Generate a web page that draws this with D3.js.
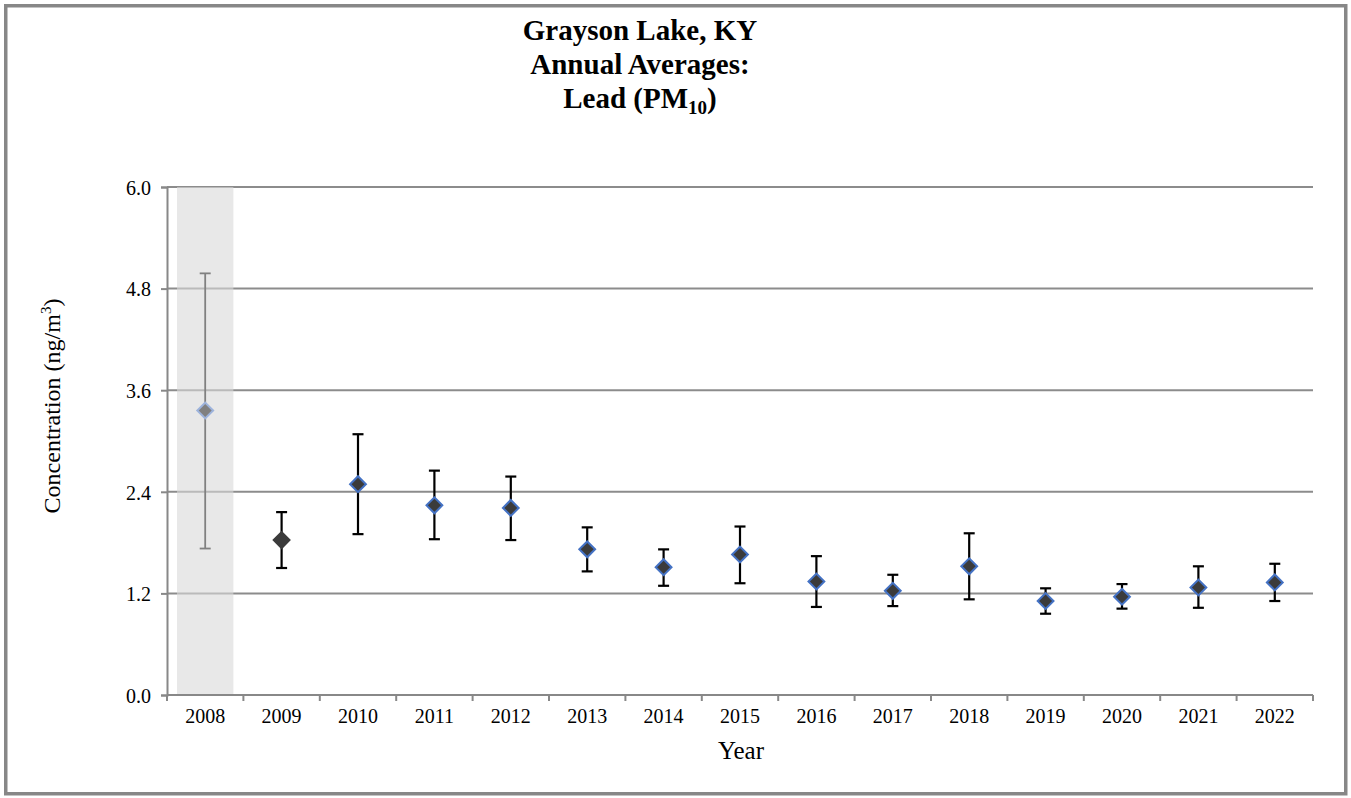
<!DOCTYPE html>
<html>
<head>
<meta charset="utf-8">
<script src="https://cdn.jsdelivr.net/npm/d3@7"></script>
<style>
  html, body { margin: 0; padding: 0; background: #fff; }
  svg { display: block; }
  text { font-family: "Liberation Serif", "Times New Roman", serif; fill: #000; }
</style>
</head>
<body>
<svg id="chart" width="1351" height="798"></svg>
<script>
// ---- data ----
const years = ["2008","2009","2010","2011","2012","2013","2014","2015","2016","2017","2018","2019","2020","2021","2022"];
const means = [3.36, 1.83, 2.49, 2.24, 2.21, 1.72, 1.51, 1.66, 1.34, 1.23, 1.52, 1.11, 1.16, 1.27, 1.33];
const upper = [4.98, 2.16, 3.08, 2.65, 2.58, 1.98, 1.72, 1.99, 1.64, 1.42, 1.91, 1.26, 1.31, 1.52, 1.55];
const lower = [1.73, 1.50, 1.90, 1.84, 1.83, 1.46, 1.29, 1.32, 1.04, 1.05, 1.13, 0.96, 1.02, 1.03, 1.11];
const yTicks = [0, 1.2, 2.4, 3.6, 4.8, 6.0];
const shadedYears = ["2008"];
const titleLines = ["Grayson Lake, KY", "Annual Averages:"];
const xTitle = "Year";

const data = years.map((y, i) => ({ year: y, mean: means[i], hi: upper[i], lo: lower[i] }));

const svg = d3.select("#chart");

// outer frame
svg.append("rect").attr("x", 5.75).attr("y", 5.75).attr("width", 1340).attr("height", 788)
  .attr("fill", "#fff").attr("stroke", "#878787").attr("stroke-width", 3.5);

const x = d3.scaleBand().domain(years).range([167, 1313]).padding(0);
const y = d3.scaleLinear().domain([0, 6]).range([695, 187]);

// gridlines
svg.append("g").selectAll("line").data(yTicks.filter(t => t > 0)).join("line")
  .attr("x1", 167).attr("x2", 1313)
  .attr("y1", d => y(d)).attr("y2", d => y(d))
  .attr("stroke", "#8c8c8c").attr("stroke-width", 2);

// shaded band
svg.append("g").selectAll("rect").data(shadedYears).join("rect")
  .attr("x", d => x(d) + 10).attr("width", x.bandwidth() - 20)
  .attr("y", y(6)).attr("height", y(0) - y(6))
  .attr("fill", "#d9d9d9").attr("fill-opacity", 0.6);

// y axis
const yAxis = d3.axisLeft(y).tickValues(yTicks).tickFormat(d3.format(".1f")).tickSizeOuter(0).tickSize(6).tickPadding(10);
const gy = svg.append("g").attr("transform", "translate(167,0)").call(yAxis);
gy.select(".domain").attr("stroke", "#888").attr("stroke-width", 2);
gy.selectAll(".tick line").attr("stroke", "#888").attr("stroke-width", 2);
gy.selectAll(".tick text").attr("font-size", 20).attr("font-family", "Liberation Serif, Times New Roman, serif").attr("fill", "#000").attr("dy", "0.36em");

// x axis
const xEdges = years.map(d => x(d)).concat([x.range()[1]]);
const gx = svg.append("g");
gx.append("line").attr("x1", 167).attr("x2", 1313).attr("y1", y(0)).attr("y2", y(0))
  .attr("stroke", "#888").attr("stroke-width", 2);
gx.selectAll("line.tk").data(xEdges).join("line").attr("class", "tk")
  .attr("x1", d => d).attr("x2", d => d).attr("y1", y(0)).attr("y2", y(0) + 6)
  .attr("stroke", "#888").attr("stroke-width", 2);
gx.selectAll("text").data(years).join("text")
  .attr("x", d => x(d) + x.bandwidth() / 2).attr("y", 723)
  .attr("text-anchor", "middle").attr("font-size", 20).text(d => d);

// error bars
const eb = svg.append("g").selectAll("g").data(data).join("g");
const ebColor = d => shadedYears.includes(d.year) ? "#808080" : "#000";
const ebWidth = d => shadedYears.includes(d.year) ? 1.8 : 2.2;
const cx = d => x(d.year) + x.bandwidth() / 2;
eb.append("line").attr("x1", cx).attr("x2", cx).attr("y1", d => y(d.hi)).attr("y2", d => y(d.lo))
  .attr("stroke", ebColor).attr("stroke-width", ebWidth);
eb.append("line").attr("x1", d => cx(d) - 5.5).attr("x2", d => cx(d) + 5.5).attr("y1", d => y(d.hi)).attr("y2", d => y(d.hi))
  .attr("stroke", ebColor).attr("stroke-width", ebWidth);
eb.append("line").attr("x1", d => cx(d) - 5.5).attr("x2", d => cx(d) + 5.5).attr("y1", d => y(d.lo)).attr("y2", d => y(d.lo))
  .attr("stroke", ebColor).attr("stroke-width", ebWidth);

// markers
const diamond = d3.symbol().type(d3.symbolSquare).size(125);
svg.append("g").selectAll("path").data(data).join("path")
  .attr("d", diamond)
  .attr("transform", d => `translate(${cx(d)},${y(d.mean)}) rotate(45)`)
  .attr("fill", d => shadedYears.includes(d.year) ? "#808080" : "#3b3b3b")
  .attr("stroke", d => shadedYears.includes(d.year) ? "#9db3dc" : (d.year === "2009" ? "#3b3b3b" : "#4472c4"))
  .attr("stroke-width", 2);

// title
const title = svg.append("text").attr("text-anchor", "middle").attr("font-weight", "bold").attr("font-size", 29);
titleLines.forEach((t, i) => {
  title.append("tspan").attr("x", 640).attr("y", 40 + i * 34).text(t);
});
const l3 = title.append("tspan").attr("x", 640).attr("y", 108);
l3.append("tspan").text("Lead (PM");
l3.append("tspan").attr("font-size", 19).attr("dy", 6).text("10");
l3.append("tspan").attr("dy", -6).text(")");

// axis titles
svg.append("text").attr("x", 741).attr("y", 759).attr("text-anchor", "middle").attr("font-size", 25).text(xTitle);

const yt = svg.append("text").attr("transform", "translate(60,406) rotate(-90)")
  .attr("text-anchor", "middle").attr("font-size", 24);
yt.append("tspan").text("Concentration (ng/m");
yt.append("tspan").attr("font-size", 15).attr("dy", -9).text("3");
yt.append("tspan").attr("dy", 9).text(")");
</script>
</body>
</html>
